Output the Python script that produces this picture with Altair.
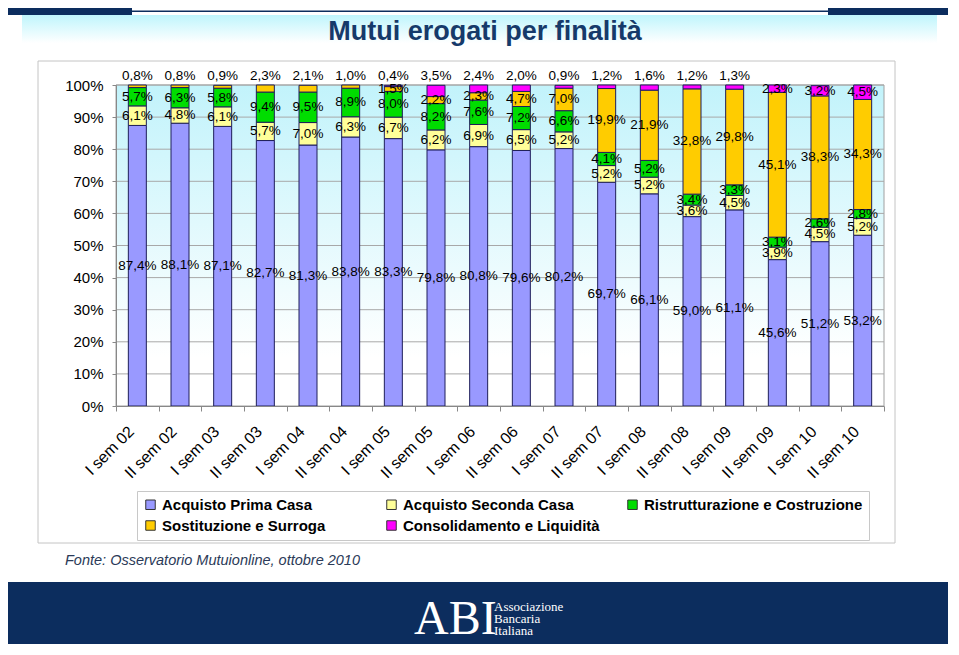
import altair as alt
import pandas as pd

periods = ["I sem 02", "II sem 02", "I sem 03", "II sem 03", "I sem 04", "II sem 04",
           "I sem 05", "II sem 05", "I sem 06", "II sem 06", "I sem 07", "II sem 07",
           "I sem 08", "II sem 08", "I sem 09", "II sem 09", "I sem 10", "II sem 10"]
series = ["Acquisto Prima Casa", "Acquisto Seconda Casa", "Ristrutturazione e Costruzione",
          "Sostituzione e Surroga", "Consolidamento e Liquidità"]
colors = ["#9999FF", "#FFFF99", "#00DD00", "#FFCC00", "#FF00FF"]

prima = [87.4, 88.1, 87.1, 82.7, 81.3, 83.8, 83.3, 79.8, 80.8, 79.6, 80.2, 69.7, 66.1, 59.0, 61.1, 45.6, 51.2, 53.2]
seconda = [6.1, 4.8, 6.1, 5.7, 7.0, 6.3, 6.7, 6.2, 6.9, 6.5, 5.2, 5.2, 5.2, 3.6, 4.5, 3.9, 4.5, 5.2]
ristrutt = [5.7, 6.3, 5.8, 9.4, 9.5, 8.9, 8.0, 8.2, 7.6, 7.2, 6.6, 4.1, 5.2, 3.4, 3.3, 3.1, 2.6, 2.8]
sostituz = [0.8, 0.8, 0.9, 2.3, 2.1, 1.0, 1.5, 2.2, 2.3, 4.7, 7.0, 19.9, 21.9, 32.8, 29.8, 45.1, 38.3, 34.3]
consolid = [0.0, 0.0, 0.0, 0.0, 0.0, 0.0, 0.4, 3.5, 2.4, 2.0, 0.9, 1.2, 1.6, 1.2, 1.3, 2.3, 3.2, 4.5]

# which series has its label written above the bar, per period
top_label = [series[3]] * 6 + [series[4]] * 9 + [""] * 3

y_ticks = list(range(0, 101, 10))
grid_vals = list(range(10, 101, 10))

FONT = "Liberation Sans, Arial, sans-serif"
NAVY = "#0c2d5e"

rows = []
all_vals = [prima, seconda, ristrutt, sostituz, consolid]
for i, p in enumerate(periods):
    base = 0.0
    for k, s in enumerate(series):
        v = all_vals[k][i]
        if v > 0:
            rows.append(dict(period=p, serie=s, ord=k, value=v, mid=base + v / 2,
                             top=(top_label[i] == s),
                             label=f"{v:.1f}".replace(".", ",") + "%"))
        base += v
df = pd.DataFrame(rows)

one = pd.DataFrame({"a": [0]})
W, H = 768, 321

xscale = alt.Scale(domain=periods, paddingInner=0, paddingOuter=0)
xaxis = alt.Axis(title=None, labelAngle=-45, labelFontSize=16, labelColor="black",
                 labelFont=FONT, tickBand="extent", tickSize=5, tickColor="#888",
                 domainColor="#888", labelPadding=12, labelOffset=-12, zindex=1)
yscale = alt.Scale(domain=[0, 100], nice=False, clamp=True)
yaxis = alt.Axis(values=y_ticks, labelExpr="datum.value + '%'", title=None, grid=False,
                 domainColor="#888", tickColor="#888", tickSize=4, labelFontSize=15,
                 labelColor="black", labelFont=FONT, labelPadding=9, zindex=1)


def rect(x, x2, y, y2, **kw):
    return alt.Chart(one).mark_rect(**kw).encode(
        x=alt.value(x), x2=alt.value(x2), y=alt.value(y), y2=alt.value(y2))


def txt(x, y, t, **kw):
    return alt.Chart(one).mark_text(**kw).encode(x=alt.value(x), y=alt.value(y), text=alt.value(t))


outer_box = rect(-78, 779, -24, 458, fill="white", stroke="#c4c4c4", strokeWidth=1)
hdr_left = rect(-108, 16, -77, -70, fill=NAVY)
hdr_right = rect(712, 832, -77, -70, fill=NAVY)
hdr_line = rect(16, 712, -74.5, -73, fill=NAVY)
band = rect(-94, 821, -70, -42, fill=alt.LinearGradient(
    gradient="linear", x1=0, x2=0, y1=0, y2=1,
    stops=[alt.GradientStop(color="#bff5fc", offset=0), alt.GradientStop(color="#ffffff", offset=1)]))
plot_bg = rect(0, W, 0, H, stroke="#a0a0a0", strokeWidth=1, fill=alt.LinearGradient(
    gradient="linear", x1=0, x2=0, y1=0, y2=1,
    stops=[alt.GradientStop(color="#c2f3fb", offset=0), alt.GradientStop(color="#ffffff", offset=0.85)]))

grid = alt.Chart(pd.DataFrame({"g": grid_vals})).mark_rule(color="#a8a8a8", strokeWidth=1).encode(
    y=alt.Y("g:Q", scale=yscale, axis=yaxis))

bars = alt.Chart(df).mark_bar(size=18, stroke="#1e1e5a", strokeWidth=1).encode(
    x=alt.X("period:N", scale=xscale, axis=xaxis),
    y=alt.Y("value:Q", stack="zero", scale=yscale, axis=yaxis),
    color=alt.Color("serie:N", scale=alt.Scale(domain=series, range=colors),
                    legend=alt.Legend(title=None, orient="none", legendX=21, legendY=406, columns=3,
                                      direction="horizontal",
                                      gridAlign="all", columnPadding=3, rowPadding=5,
                                      symbolType="square", symbolSize=90, symbolStrokeColor="#333",
                                      symbolStrokeWidth=1, symbolOpacity=1,
                                      labelFont=FONT, labelFontSize=15, labelFontWeight="bold",
                                      labelColor="black", labelLimit=400, labelOffset=4,
                                      strokeColor="#c8c8c8", fillColor="white", padding=6)),
    order=alt.Order("ord:Q"))

lab_mid = alt.Chart(df).transform_filter("!datum.top").mark_text(
    fontSize=13.5, font=FONT, color="black").encode(
    x=alt.X("period:N", scale=xscale, axis=xaxis),
    y=alt.Y("mid:Q", scale=yscale, axis=yaxis), text="label:N")

lab_top = alt.Chart(df).transform_filter("datum.top").mark_text(
    fontSize=13.5, font=FONT, color="black", dy=-9).encode(
    x=alt.X("period:N", scale=xscale, axis=xaxis),
    y=alt.YDatum(100, scale=yscale, axis=yaxis), text="label:N")

title = txt(369, -53, "Mutui erogati per finalità", fontSize=27, fontWeight="bold",
            font=FONT, color="#163a6a", align="center", baseline="middle")
source = txt(-51, 476, "Fonte: Osservatorio Mutuionline, ottobre 2010", fontSize=14.5,
             fontStyle="italic", font=FONT, color="#2b3a58", align="left", baseline="middle")
banner = rect(-108, 832, 497, 559, fill=NAVY)
abi = txt(298, 549, "ABI", fontSize=48, font="Liberation Serif, Times New Roman, serif",
          color="white", align="left", baseline="alphabetic")
assoc1 = txt(378, 522, "Associazione", fontSize=13, font="Liberation Serif, serif", color="white",
             align="left", baseline="middle")
assoc2 = txt(378, 534, "Bancaria", fontSize=13, font="Liberation Serif, serif", color="white",
             align="left", baseline="middle")
assoc3 = txt(378, 546, "Italiana", fontSize=13, font="Liberation Serif, serif", color="white",
             align="left", baseline="middle")

chart = alt.layer(
    outer_box, hdr_left, hdr_right, hdr_line, band, plot_bg, grid, bars, lab_mid, lab_top,
    title, source, banner, abi, assoc1, assoc2, assoc3
).properties(
    width=W, height=H,
    padding={"left": 108, "top": 77, "right": 64, "bottom": 238},
    autosize=alt.AutoSizeParams(type="none"),
).configure_view(stroke=None)

chart.save("out.html", embed_options={"renderer": "svg", "actions": False})
